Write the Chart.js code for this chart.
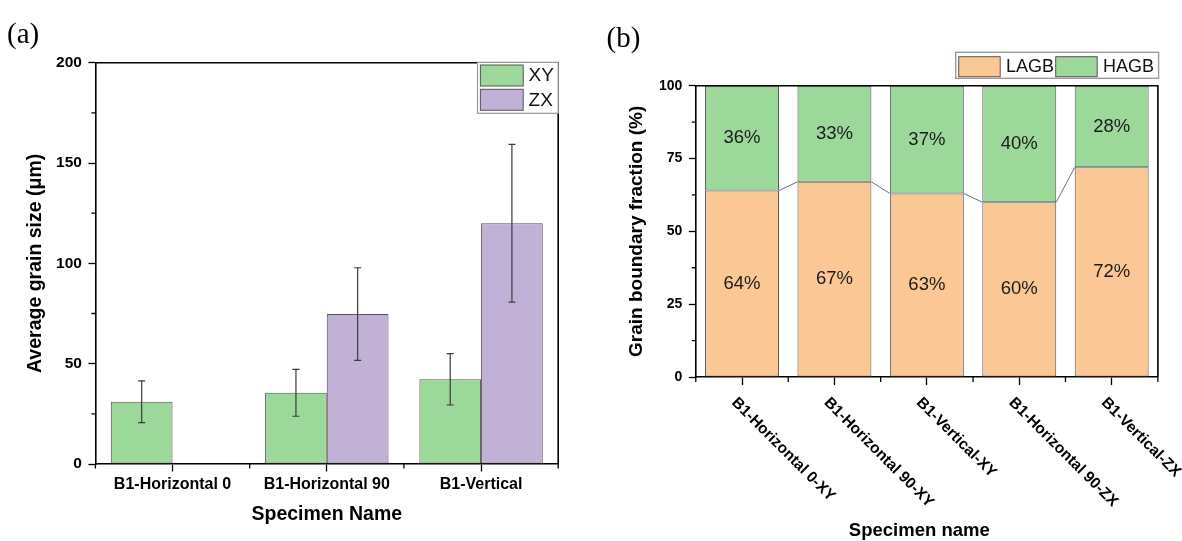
<!DOCTYPE html>
<html>
<head>
<meta charset="utf-8">
<script src="https://cdn.jsdelivr.net/npm/chart.js@4.4.0/dist/chart.umd.min.js"></script>
<style>
  html, body { margin: 0; padding: 0; background: #fff; }
  body { width: 1182px; height: 541px; position: relative; overflow: hidden; }
  .panel { position: absolute; top: 0; height: 541px; }
  #panelA { left: 0; width: 590px; }
  #panelB { left: 590px; width: 592px; }
  canvas { display: block; }
</style>
</head>
<body>
<div class="panel" id="panelA"><canvas id="chartA" width="590" height="541"></canvas></div>
<div class="panel" id="panelB"><canvas id="chartB" width="592" height="541"></canvas></div>
<script>
// ---- (a) average grain size per specimen ----
const specimens   = ['B1-Horizontal 0', 'B1-Horizontal 90', 'B1-Vertical'];
const sizeXY      = [31.0, 35.5, 42.2];
const sizeXYErr   = [10.4, 11.7, 12.8];
const sizeZX      = [null, 74.7, 120.0];
const sizeZXErr   = [null, 23.1, 39.3];
const sizeTicks   = [0, 50, 100, 150, 200];
const sizeMinor   = [25, 75, 125, 175];

// ---- (b) grain boundary fractions ----
const sections      = ['B1-Horizontal 0-XY', 'B1-Horizontal 90-XY', 'B1-Vertical-XY', 'B1-Horizontal 90-ZX', 'B1-Vertical-ZX'];
const lagbFraction  = [64, 67, 63, 60, 72];
const hagbFraction  = [36, 33, 37, 40, 28];
const fractionTicks = [0, 25, 50, 75, 100];
const fractionMinor = [12.5, 37.5, 62.5, 87.5];

const FONT = "'Liberation Sans', Arial, sans-serif";
const SERIF = "'Liberation Serif', 'Times New Roman', serif";
const GREEN = '#9dd89b';
const PURPLE = '#c1b1d6';
const ORANGE = '#fbc895';
const EDGE = '#555555';

Chart.defaults.font.family = FONT;
Chart.defaults.color = '#000';

// shared helpers
function drawMinorTicksY(ctx, scale, values, len) {
  ctx.beginPath();
  values.forEach(v => {
    const py = scale.getPixelForValue(v);
    ctx.moveTo(scale.right, py);
    ctx.lineTo(scale.right - len, py);
  });
  ctx.stroke();
}
function drawBoundaryTicksX(ctx, scale, count, len) {
  const step = (scale.right - scale.left) / count;
  ctx.beginPath();
  for (let i = 0; i <= count; i++) {
    const px = scale.left + step * i;
    ctx.moveTo(px, scale.top);
    ctx.lineTo(px, scale.top + len);
  }
  ctx.stroke();
}
function drawFrame(ctx, area) {
  ctx.strokeStyle = '#000';
  ctx.lineWidth = 1.6;
  ctx.beginPath();
  ctx.moveTo(area.left, area.top);
  ctx.lineTo(area.right, area.top);
  ctx.lineTo(area.right, area.bottom);
  ctx.stroke();
}

// ---------------- panel (a) ----------------
const panelAExtras = {
  id: 'panelAExtras',
  afterDatasetsDraw(chart) {
    const { ctx, scales: { y } } = chart;
    ctx.save();
    ctx.strokeStyle = '#3a3a3a';
    ctx.lineWidth = 1.2;
    chart.data.datasets.forEach((ds, i) => {
      const meta = chart.getDatasetMeta(i);
      meta.data.forEach((bar, j) => {
        const v = ds.data[j], e = ds.errors[j];
        if (v == null || e == null) return;
        const hi = y.getPixelForValue(v + e);
        const lo = y.getPixelForValue(v - e);
        const cap = 3.5;
        ctx.beginPath();
        ctx.moveTo(bar.x, hi); ctx.lineTo(bar.x, lo);
        ctx.moveTo(bar.x - cap, hi); ctx.lineTo(bar.x + cap, hi);
        ctx.moveTo(bar.x - cap, lo); ctx.lineTo(bar.x + cap, lo);
        ctx.stroke();
      });
    });
    ctx.restore();
  },
  afterDraw(chart) {
    const { ctx, chartArea, scales: { x, y } } = chart;
    ctx.save();
    drawFrame(ctx, chartArea);
    ctx.lineWidth = 1.3;
    drawMinorTicksY(ctx, y, sizeMinor, 4);
    drawBoundaryTicksX(ctx, x, specimens.length, 4.5);

    // legend box
    const bx = 477.5, by = 62.3, bw = chartArea.right - 477.5, bh = 51;
    ctx.fillStyle = '#fff';
    ctx.fillRect(bx, by, bw, bh);
    ctx.strokeStyle = '#9a9a9a';
    ctx.lineWidth = 1.2;
    ctx.strokeRect(bx, by, bw, bh);
    const rows = [65, 89.3];
    chart.data.datasets.forEach((ds, i) => {
      const top = rows[i];
      ctx.fillStyle = ds.backgroundColor;
      ctx.fillRect(480.4, top, 42.8, 21);
      ctx.strokeStyle = EDGE;
      ctx.lineWidth = 1;
      ctx.strokeRect(480.4, top, 42.8, 21);
      ctx.fillStyle = '#111';
      ctx.font = '19px ' + FONT;
      ctx.textAlign = 'left';
      ctx.textBaseline = 'middle';
      ctx.fillText(ds.label, 528.6, top + 11);
    });

    // panel tag
    ctx.fillStyle = '#000';
    ctx.font = '29px ' + SERIF;
    ctx.textAlign = 'left';
    ctx.textBaseline = 'alphabetic';
    ctx.fillText('(a)', 7, 43.3);
    ctx.restore();
  }
};

new Chart(document.getElementById('chartA'), {
  type: 'bar',
  data: {
    labels: specimens,
    datasets: [
      { label: 'XY', data: sizeXY, errors: sizeXYErr, backgroundColor: GREEN, borderColor: EDGE, borderWidth: 1, borderSkipped: false },
      { label: 'ZX', data: sizeZX, errors: sizeZXErr, backgroundColor: PURPLE, borderColor: EDGE, borderWidth: 1, borderSkipped: false }
    ]
  },
  options: {
    responsive: false,
    animation: false,
    devicePixelRatio: 1,
    layout: { padding: { left: 0, right: 31.8, top: 62.7, bottom: 0 } },
    datasets: { bar: { categoryPercentage: 0.8, barPercentage: 1.0 } },
    plugins: { legend: { display: false }, tooltip: { enabled: false } },
    scales: {
      x: {
        offset: true,
        grid: { offset: false, drawOnChartArea: false, drawTicks: true, tickLength: 7.5, color: '#000', tickWidth: 1.3 },
        border: { display: true, color: '#000', width: 1.6 },
        ticks: { font: { size: 16, weight: 'bold' }, color: '#000', padding: 3, maxRotation: 0, minRotation: 0 },
        afterFit(scale) { scale.height = 77; },
        title: { display: true, text: 'Specimen Name', color: '#000', font: { size: 19.5, weight: 'bold' }, padding: { top: 0, bottom: 14.3 } }
      },
      y: {
        min: 0, max: 200,
        afterBuildTicks(scale) { scale.ticks = sizeTicks.map(v => ({ value: v })); },
        afterFit(scale) { scale.width = 95.4; },
        grid: { drawOnChartArea: false, drawTicks: true, tickLength: 7, color: '#000', tickWidth: 1.3 },
        border: { display: true, color: '#000', width: 1.6 },
        ticks: { font: { size: 15.5, weight: 'bold' }, color: '#000', padding: 6.5 },
        title: { display: true, text: 'Average grain size (μm)', color: '#000', font: { size: 19.5, weight: 'bold' }, padding: { top: 24, bottom: 0 } }
      }
    }
  },
  plugins: [panelAExtras]
});

// ---------------- panel (b) ----------------
const panelBExtras = {
  id: 'panelBExtras',
  afterDatasetsDraw(chart) {
    const { ctx } = chart;
    ctx.save();
    // links between the tops of consecutive LAGB segments
    const lower = chart.getDatasetMeta(0).data;
    ctx.strokeStyle = '#707070';
    ctx.lineWidth = 1;
    ctx.beginPath();
    for (let j = 0; j < lower.length - 1; j++) {
      const a = lower[j], b = lower[j + 1];
      ctx.moveTo(a.x + a.width / 2, a.y);
      ctx.lineTo(b.x - b.width / 2, b.y);
    }
    ctx.stroke();

    // percentage labels in the middle of each segment
    ctx.fillStyle = '#1a1a1a';
    ctx.font = '18.5px ' + FONT;
    ctx.textAlign = 'center';
    ctx.textBaseline = 'middle';
    chart.data.datasets.forEach((ds, i) => {
      chart.getDatasetMeta(i).data.forEach((bar, j) => {
        ctx.fillText(ds.data[j] + '%', bar.x, (bar.y + bar.base) / 2);
      });
    });
    ctx.restore();
  },
  afterDraw(chart) {
    const { ctx, chartArea, scales: { x, y } } = chart;
    ctx.save();
    drawFrame(ctx, chartArea);
    ctx.lineWidth = 1.3;
    ctx.strokeStyle = '#000';
    drawMinorTicksY(ctx, y, fractionMinor, 4);
    drawBoundaryTicksX(ctx, x, sections.length, 5);

    // slanted category labels
    ctx.fillStyle = '#000';
    ctx.font = 'bold 15.5px ' + FONT;
    ctx.textAlign = 'left';
    ctx.textBaseline = 'middle';
    sections.forEach((name, i) => {
      const px = x.getPixelForValue(i);
      ctx.save();
      ctx.translate(px - 8, 400.2);
      ctx.rotate(Math.PI / 4);
      ctx.fillText(name, 0, 0);
      ctx.restore();
    });

    // axis title below the slanted labels
    ctx.font = 'bold 18.5px ' + FONT;
    ctx.textAlign = 'center';
    ctx.fillText('Specimen name', 329.3, 531.2);

    // legend box
    const bx = 365.7, by = 52.3, bw = 202.9, bh = 26;
    ctx.fillStyle = '#fff';
    ctx.fillRect(bx, by, bw, bh);
    ctx.strokeStyle = '#9a9a9a';
    ctx.lineWidth = 1.4;
    ctx.strokeRect(bx, by, bw, bh);
    const swatchX = [368.7, 465.7];
    const textX = [416, 513];
    chart.data.datasets.forEach((ds, i) => {
      ctx.fillStyle = ds.backgroundColor;
      ctx.fillRect(swatchX[i], 56.7, 41.5, 20);
      ctx.strokeStyle = EDGE;
      ctx.lineWidth = 1;
      ctx.strokeRect(swatchX[i], 56.7, 41.5, 20);
      ctx.fillStyle = '#111';
      ctx.font = '18px ' + FONT;
      ctx.textAlign = 'left';
      ctx.textBaseline = 'middle';
      ctx.fillText(ds.label, textX[i], 66.7);
    });

    // panel tag
    ctx.fillStyle = '#000';
    ctx.font = '29px ' + SERIF;
    ctx.textAlign = 'left';
    ctx.textBaseline = 'alphabetic';
    ctx.fillText('(b)', 16.5, 46.7);
    ctx.restore();
  }
};

new Chart(document.getElementById('chartB'), {
  type: 'bar',
  data: {
    labels: sections,
    datasets: [
      { label: 'LAGB', data: lagbFraction, backgroundColor: ORANGE, borderColor: EDGE, borderWidth: 1, borderSkipped: false },
      { label: 'HAGB', data: hagbFraction, backgroundColor: GREEN, borderColor: EDGE, borderWidth: 1, borderSkipped: false }
    ]
  },
  options: {
    responsive: false,
    animation: false,
    devicePixelRatio: 1,
    layout: { padding: { left: 0, right: 24.1, top: 85.7, bottom: 0 } },
    datasets: { bar: { categoryPercentage: 1.0, barPercentage: 0.8 } },
    plugins: { legend: { display: false }, tooltip: { enabled: false } },
    scales: {
      x: {
        stacked: true,
        offset: true,
        grid: { offset: false, drawOnChartArea: false, drawTicks: true, tickLength: 8, color: '#000', tickWidth: 1.3 },
        border: { display: true, color: '#000', width: 1.6 },
        ticks: { display: false },
        afterFit(scale) { scale.height = 164; }
      },
      y: {
        stacked: true,
        min: 0, max: 100,
        afterBuildTicks(scale) { scale.ticks = fractionTicks.map(v => ({ value: v })); },
        afterFit(scale) { scale.width = 105.8; },
        grid: { drawOnChartArea: false, drawTicks: true, tickLength: 7, color: '#000', tickWidth: 1.3 },
        border: { display: true, color: '#000', width: 1.6 },
        ticks: { font: { size: 14, weight: 'bold' }, color: '#000', padding: 6.4 },
        title: { display: true, text: 'Grain boundary fraction (%)', color: '#000', font: { size: 19, weight: 'bold' }, padding: { top: 35.6, bottom: 0 } }
      }
    }
  },
  plugins: [panelBExtras]
});
</script>
</body>
</html>
